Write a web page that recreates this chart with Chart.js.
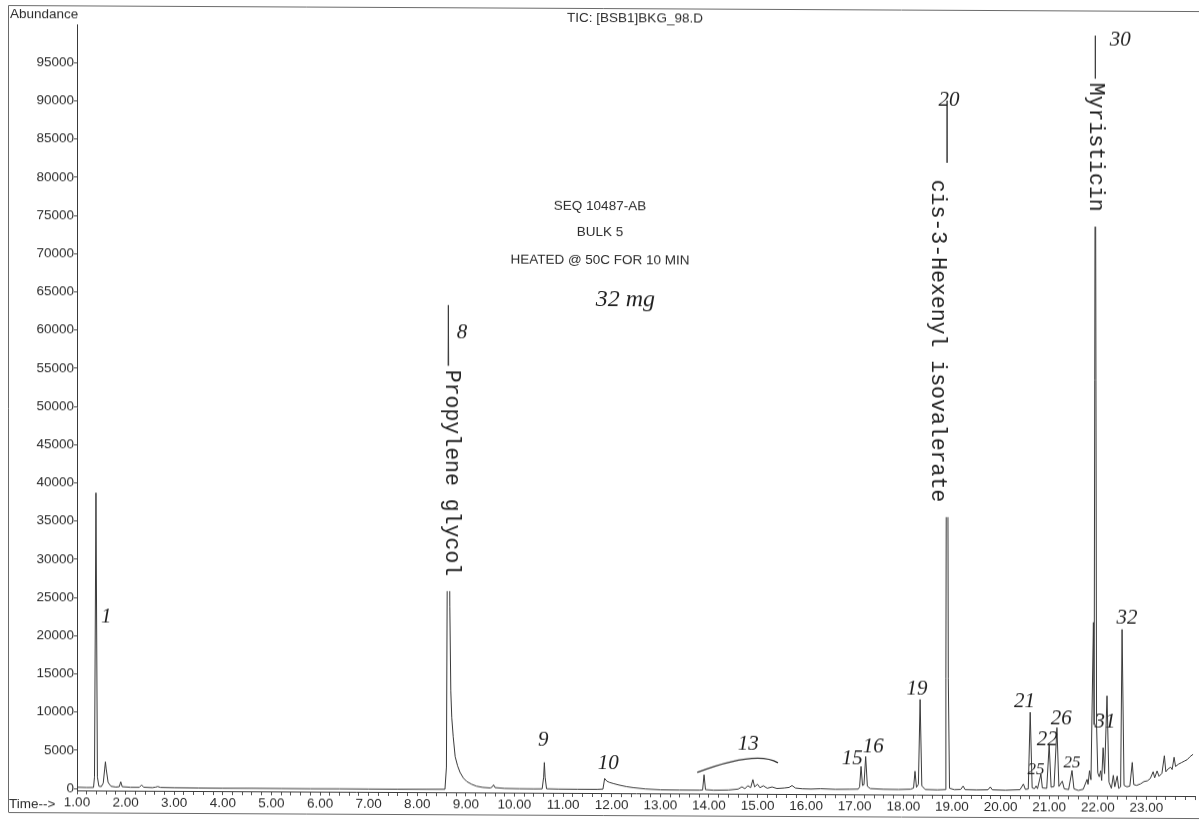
<!DOCTYPE html>
<html>
<head>
<meta charset="utf-8">
<title>TIC: [BSB1]BKG_98.D</title>
<script src="https://cdn.jsdelivr.net/npm/chart.js@4.4.1/dist/chart.umd.min.js"></script>
<style>
  html, body { margin: 0; padding: 0; background: #fff; }
  #page { width: 1199px; height: 822px; position: relative; overflow: hidden; background: #fff; }
  /* the printed sheet sits very slightly askew on the scanner bed */
  #tic { display: block; transform: skewY(0.29deg); transform-origin: 0 0; }
</style>
</head>
<body>
<div id="page"><canvas id="tic" width="1199" height="822"></canvas></div>
<script>
// ---- Total ion chromatogram, abundance vs retention time (min) ----

// 1.0 – 8.2 min: solvent front and early volatiles
const earlyTime = [1.00, 1.20, 1.34, 1.36, 1.39, 1.42, 1.45, 1.50, 1.54, 1.57, 1.585, 1.60, 1.64, 1.70, 1.80, 1.87, 1.90, 1.93,
  2.10, 2.28, 2.33, 2.37, 2.55, 2.62, 2.66, 2.72, 3.00, 3.50, 4.00, 4.60, 5.20, 5.80, 6.40, 7.00, 7.60, 8.20];
const earlyAbundance = [150, 120, 130, 1500, 38700, 1500, 300, 250, 700, 2600, 3500, 2600, 800, 300, 200, 250, 900, 250,
  180, 180, 500, 200, 150, 220, 300, 180, 150, 130, 120, 130, 120, 110, 120, 110, 110, 120];

// 8.57 – 17.9 min: propylene glycol with its tail, peaks 9 to 16
const midTime = [8.57, 8.60, 8.64, 8.67, 8.69, 8.71, 8.74, 8.78, 8.83, 8.88, 8.95, 9.02, 9.12, 9.22, 9.35, 9.50, 9.54, 9.57, 9.60, 9.80,
  10.10, 10.40, 10.57, 10.60, 10.615, 10.63, 10.66, 10.90, 11.30, 11.70, 11.82, 11.855, 11.90, 11.95, 12.03, 12.15, 12.30, 12.44, 12.70,
  13.00, 13.40, 13.80, 13.87, 13.90, 13.93, 14.10, 14.40, 14.60, 14.68, 14.74, 14.80, 14.86, 14.905, 14.94, 15.00, 15.05, 15.12, 15.20,
  15.30, 15.40, 15.55, 15.65, 15.71, 15.78, 15.92, 16.10, 16.30, 16.60, 16.90, 17.07, 17.10, 17.13, 17.16, 17.19, 17.225, 17.26, 17.32,
  17.60, 17.90];
const midAbundance = [130, 3000, 63500, 24000, 13000, 9500, 7000, 4400, 3200, 2350, 1600, 1150, 800, 550, 400, 330, 450, 750, 380, 280,
  250, 240, 250, 1800, 3700, 1800, 260, 230, 220, 220, 250, 1650, 1300, 1150, 1000, 800, 600, 470, 300,
  200, 180, 180, 200, 2200, 250, 180, 220, 350, 650, 400, 800, 550, 1600, 650, 1000, 550, 800, 480,
  650, 450, 520, 600, 850, 520, 430, 400, 450, 380, 400, 420, 700, 3400, 900, 1000, 4700, 800, 500,
  420, 400];

// 18.15 – 23.96 min: peaks 19 to 32 and the rising baseline
const lateTime = [18.15, 18.21, 18.24, 18.27, 18.31, 18.345, 18.38, 18.45, 18.70, 18.86, 18.875, 18.90, 18.925, 18.95, 19.05, 19.18,
  19.23, 19.27, 19.50, 19.74, 19.79, 19.83, 20.10, 20.40, 20.47, 20.51, 20.57, 20.61, 20.65, 20.70, 20.73, 20.76, 20.83, 20.86, 20.95,
  21.00, 21.04, 21.10, 21.16, 21.20, 21.27, 21.31, 21.40, 21.47, 21.51, 21.60, 21.70, 21.78, 21.80, 21.83, 21.86, 21.91, 21.925, 21.95,
  21.975, 22.00, 22.03, 22.06, 22.08, 22.11, 22.14, 22.19, 22.23, 22.28, 22.32, 22.35, 22.40, 22.43, 22.47, 22.50, 22.54, 22.60, 22.66,
  22.71, 22.74, 22.80, 22.88, 22.95, 23.02, 23.08, 23.14, 23.17, 23.22, 23.26, 23.32, 23.37, 23.40, 23.45, 23.50, 23.53, 23.57, 23.60,
  23.66, 23.72, 23.78, 23.84, 23.90, 23.96];
const lateAbundance = [450, 600, 2800, 700, 1100, 12200, 900, 420, 380, 420, 15000, 90600, 15000, 600, 420, 450,
  900, 430, 400, 420, 800, 420, 380, 450, 1200, 500, 550, 10600, 700, 600, 950, 600, 2500, 700, 650,
  6400, 800, 900, 8600, 900, 1600, 600, 500, 3000, 600, 400, 550, 1850, 1200, 3000, 1800, 22400, 9000, 99200,
  9000, 2700, 2200, 3000, 1700, 6000, 2600, 12800, 1500, 700, 2400, 900, 2300, 700, 900, 21500, 1100, 900, 1000,
  4100, 1200, 1100, 1300, 1600, 1700, 2000, 2900, 2100, 3000, 2300, 2700, 5000, 2900, 3300, 3500, 3200, 4800, 3600,
  3900, 4100, 4300, 4500, 4900, 5200];

// axis ticks
const xTickValues = [1, 2, 3, 4, 5, 6, 7, 8, 9, 10, 11, 12, 13, 14, 15, 16, 17, 18, 19, 20, 21, 22, 23];
const yTickValues = [0, 5000, 10000, 15000, 20000, 25000, 30000, 35000, 40000, 45000, 50000,
  55000, 60000, 65000, 70000, 75000, 80000, 85000, 90000, 95000];

// identified compounds, printed along their peaks
const compoundNames = ['Propylene glycol', ' cis-3-Hexenyl isovalerate', 'Myristicin'];
const compoundPeakTimes = [8.64, 18.90, 21.95];
const compoundLabelTimes = [8.70, 18.70, 21.95];
const compoundLabelTops = [55300, 82200, 93300];

// hand-written peak numbers
const peakTags = ['1', '8', '9', '10', '13', '15', '16', '19', '20', '21', '25', '22', '26', '25', '30', '31', '32'];
const peakTagTimes = [1.60, 8.92, 10.59, 11.93, 14.81, 16.95, 17.38, 18.28, 18.94, 20.49, 20.73, 20.96, 21.25, 21.47, 22.46, 22.15, 22.60];
const peakTagLevels = [22500, 59900, 6600, 3600, 6200, 4400, 5900, 13500, 90600, 12000, 3100, 7000, 9700, 4000, 98600, 9300, 23000];

// bracket drawn over the peak-13 group (start, bend, end)
const bracketTimes = [13.76, 14.97, 15.42];
const bracketLevels = [2500, 5460, 3820];

// sample note and sample weight
const sampleLines = ['SEQ 10487-AB', 'BULK 5', 'HEATED @ 50C FOR 10 MIN'];
const sampleWeight = '32 mg';
const sampleWeightAt = [12.28, 64300];

const fileTitle = 'TIC: [BSB1]BKG_98.D';

// ---------------------------------------------------------------------

function hasFont(name) {
  const c = document.createElement('canvas').getContext('2d');
  c.font = '40px monospace';
  const a = c.measureText('Abundance 10487').width;
  c.font = `40px '${name}', monospace`;
  const b = c.measureText('Abundance 10487').width;
  return Math.abs(a - b) > 0.5;
}
const NARROW = hasFont('Liberation Sans Narrow');
const PRINT_FAMILY = NARROW ? "'Liberation Sans Narrow', 'Liberation Sans', Arial, sans-serif" : "'Liberation Sans', Arial, sans-serif";
const PRINT_SIZE = NARROW ? 16 : 13.5;
const INK = '#2b2b2b';
const PENCIL = '#1f1f1f';
const HAND_FAMILY = "'Liberation Serif', 'DejaVu Serif', serif";

function series(times, values) {
  return times.map((t, i) => ({ x: t, y: values[i] }));
}
const trace = [
  ...series(earlyTime, earlyAbundance),
  ...series(midTime, midAbundance),
  ...series(lateTime, lateAbundance)
];

const minorTicks = Array.from({ length: 116 }, (_, i) => +(1 + i * 0.2).toFixed(1));

const printout = {
  id: 'printout',
  beforeDraw(chart) {
    const ctx = chart.ctx;
    ctx.save();
    ctx.fillStyle = '#fff';
    ctx.fillRect(0, 0, chart.width, chart.height);

    // sheet frame
    ctx.strokeStyle = '#6a6a6a';
    ctx.lineWidth = 1;
    ctx.beginPath();
    ctx.moveTo(8.5, 812); ctx.lineTo(8.5, 5.5); ctx.lineTo(1199, 5.5);
    ctx.moveTo(8.5, 812.5); ctx.lineTo(1199, 812.5);
    ctx.stroke();

    ctx.fillStyle = INK;
    ctx.font = `${PRINT_SIZE}px ${PRINT_FAMILY}`;
    ctx.textBaseline = 'middle';
    ctx.textAlign = 'left';
    ctx.fillText('Abundance', 10, 14);
    ctx.fillText('Time-->', 9, 804);

    ctx.textAlign = 'center';
    ctx.fillText(fileTitle, 635, 15);

    const ys = [203, 229, 257];
    sampleLines.forEach((s, i) => ctx.fillText(s, 600, ys[i]));
    ctx.restore();
  },
  afterDatasetsDraw(chart) {
    const ctx = chart.ctx;
    const xs = chart.scales.x, ys = chart.scales.y;
    ctx.save();

    // compound names, typed vertically over their peaks
    ctx.font = "21.5px 'Liberation Mono', 'DejaVu Sans Mono', monospace";
    ctx.textBaseline = 'middle';
    ctx.textAlign = 'left';
    compoundNames.forEach((name, i) => {
      const cx = xs.getPixelForValue(compoundLabelTimes[i]);
      const px = xs.getPixelForValue(compoundPeakTimes[i]);
      const top = ys.getPixelForValue(compoundLabelTops[i]);
      const len = ctx.measureText(name + ' ').width;
      const left = Math.min(cx - 10, px - 3);
      const right = Math.max(cx + 10, px + 3);
      ctx.fillStyle = '#fff';
      ctx.fillRect(left, top - 2, right - left, len + 6);
      ctx.save();
      ctx.translate(cx, top + 2);
      ctx.rotate(Math.PI / 2);
      ctx.fillStyle = '#222';
      ctx.fillText(name, 0, 0);
      ctx.restore();
    });

    // pencil marks
    ctx.fillStyle = PENCIL;
    ctx.textAlign = 'center';
    ctx.textBaseline = 'middle';
    peakTags.forEach((tag, i) => {
      const size = tag === '25' ? 17 : 21;
      ctx.font = `italic ${size}px ${HAND_FAMILY}`;
      ctx.fillText(tag, xs.getPixelForValue(peakTagTimes[i]), ys.getPixelForValue(peakTagLevels[i]));
    });

    ctx.strokeStyle = '#333';
    ctx.lineWidth = 1.4;
    ctx.beginPath();
    ctx.moveTo(xs.getPixelForValue(bracketTimes[0]), ys.getPixelForValue(bracketLevels[0]));
    ctx.quadraticCurveTo(
      xs.getPixelForValue(bracketTimes[1]), ys.getPixelForValue(bracketLevels[1]),
      xs.getPixelForValue(bracketTimes[2]), ys.getPixelForValue(bracketLevels[2]));
    ctx.stroke();

    ctx.font = `italic 24px ${HAND_FAMILY}`;
    ctx.fillText(sampleWeight, xs.getPixelForValue(sampleWeightAt[0]), ys.getPixelForValue(sampleWeightAt[1]));
    ctx.restore();
  }
};

new Chart(document.getElementById('tic'), {
  type: 'line',
  data: {
    datasets: [{
      data: trace,
      borderColor: '#3a3a3a',
      borderWidth: 1,
      pointRadius: 0,
      tension: 0,
      fill: false
    }]
  },
  options: {
    responsive: false,
    animation: false,
    devicePixelRatio: 1,
    parsing: true,
    layout: { padding: { left: 0, top: 24, right: 4, bottom: 0 } },
    plugins: { legend: { display: false }, tooltip: { enabled: false }, title: { display: false } },
    scales: {
      x: {
        type: 'linear',
        min: 1,
        max: 24,
        afterBuildTicks(scale) { scale.ticks = minorTicks.map(v => ({ value: v })); },
        afterFit(scale) { scale.height = 32; },
        grid: { drawOnChartArea: false, drawTicks: true, tickLength: 4, color: '#555', lineWidth: 1 },
        border: { display: true, color: '#3a3a3a', width: 1 },
        ticks: {
          autoSkip: false,
          maxRotation: 0,
          padding: 0,
          color: INK,
          font: { family: PRINT_FAMILY, size: PRINT_SIZE },
          callback(v) {
            const r = Math.round(v);
            return (Math.abs(v - r) < 1e-6 && xTickValues.includes(r)) ? r.toFixed(2) : '';
          }
        }
      },
      y: {
        type: 'linear',
        min: -260,
        max: 100000,
        afterBuildTicks(scale) { scale.ticks = yTickValues.map(v => ({ value: v })); },
        afterFit(scale) { scale.width = 77; },
        grid: { drawOnChartArea: false, drawTicks: true, tickLength: 3, color: '#555', lineWidth: 1 },
        border: { display: true, color: '#3a3a3a', width: 1 },
        ticks: {
          padding: 0,
          color: INK,
          font: { family: PRINT_FAMILY, size: PRINT_SIZE },
          callback(v) { return String(v); }
        }
      }
    }
  },
  plugins: [printout]
});
</script>
</body>
</html>
